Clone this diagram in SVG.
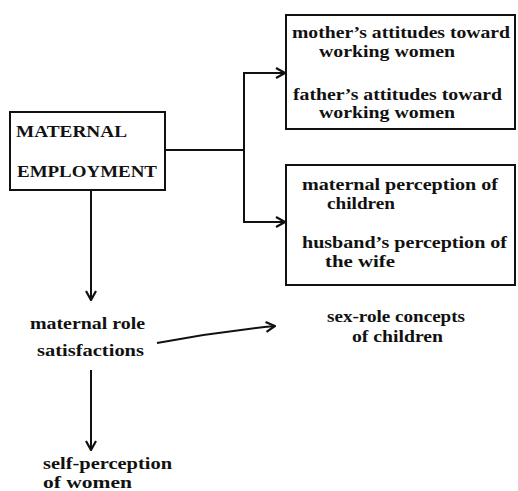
<svg xmlns="http://www.w3.org/2000/svg" width="518" height="491" viewBox="0 0 518 491">
<defs>
<style>
text{font-family:"Liberation Serif","DejaVu Serif",serif;font-weight:bold;font-size:16px;fill:#111}
.box{fill:none;stroke:#111;stroke-width:2}
.ln{fill:none;stroke:#111;stroke-width:2}
</style>
<marker id="ah" viewBox="0 0 12 12" refX="11" refY="6" markerWidth="12" markerHeight="12" markerUnits="userSpaceOnUse" orient="auto">
<path d="M2,1 L11,6 L2,11" fill="none" stroke="#111" stroke-width="2.2"/>
</marker>
</defs>
<rect width="518" height="491" fill="#fff"/>
<g id="connectors">
<path class="ln" d="M165,150 H244"/>
<path class="ln" d="M244,222 V73 H285" marker-end="url(#ah)"/>
<path class="ln" d="M244,150 V222 H285" marker-end="url(#ah)"/>
<path class="ln" d="M91,190 V300" marker-end="url(#ah)"/>
<path class="ln" d="M157,343 Q216,332 275,326" marker-end="url(#ah)" stroke-width="1.6"/>
<path class="ln" d="M91,370 V450" marker-end="url(#ah)"/>
</g>
<g id="maternal-employment">
<rect class="box" x="10" y="112" width="155" height="78"/>
<text x="16" y="137" textLength="111" lengthAdjust="spacingAndGlyphs" style="font-size:17px">MATERNAL</text>
<text x="17" y="177" textLength="140" lengthAdjust="spacingAndGlyphs" style="font-size:17px">EMPLOYMENT</text>
</g>
<g id="attitudes">
<rect class="box" x="286" y="15" width="229" height="114"/>
<text x="292" y="38" textLength="218" lengthAdjust="spacingAndGlyphs">mother’s attitudes toward</text>
<text x="319" y="57" textLength="136" lengthAdjust="spacingAndGlyphs">working women</text>
<text x="293" y="100" textLength="209" lengthAdjust="spacingAndGlyphs">father’s attitudes toward</text>
<text x="319" y="118" textLength="136" lengthAdjust="spacingAndGlyphs">working women</text>
</g>
<g id="perceptions">
<rect class="box" x="286" y="165" width="229" height="120"/>
<text x="302" y="190" textLength="196" lengthAdjust="spacingAndGlyphs">maternal perception of</text>
<text x="327" y="209" textLength="68" lengthAdjust="spacingAndGlyphs">children</text>
<text x="302" y="248" textLength="205" lengthAdjust="spacingAndGlyphs">husband’s perception of</text>
<text x="325" y="267" textLength="70" lengthAdjust="spacingAndGlyphs">the wife</text>
</g>
<g id="role-satisfactions">
<text x="30" y="329" textLength="115" lengthAdjust="spacingAndGlyphs">maternal role</text>
<text x="37" y="356" textLength="107" lengthAdjust="spacingAndGlyphs">satisfactions</text>
</g>
<g id="sex-role">
<text x="327" y="322" textLength="138" lengthAdjust="spacingAndGlyphs">sex-role concepts</text>
<text x="352" y="342" textLength="91" lengthAdjust="spacingAndGlyphs">of children</text>
</g>
<g id="self-perception">
<text x="43" y="469" textLength="129" lengthAdjust="spacingAndGlyphs">self-perception</text>
<text x="43" y="488" textLength="89" lengthAdjust="spacingAndGlyphs">of women</text>
</g>
</svg>
